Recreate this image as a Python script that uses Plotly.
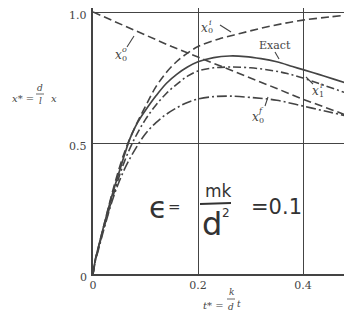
import plotly.graph_objects as go

# curves (t* vs x*), eps = mk/d^2 = 0.1
t_exact = [0, 0.005, 0.01, 0.02, 0.03, 0.04, 0.05, 0.06, 0.07, 0.08, 0.09, 0.10, 0.12, 0.14,
           0.16, 0.18, 0.20, 0.23, 0.26, 0.29, 0.32, 0.35, 0.38, 0.40, 0.43, 0.46, 0.495]
x_exact = [0, 0.06, 0.10, 0.18, 0.255, 0.325, 0.39, 0.455, 0.515, 0.56, 0.595, 0.625, 0.68, 0.728,
           0.763, 0.79, 0.81, 0.826, 0.832, 0.83, 0.822, 0.81, 0.792, 0.78, 0.762, 0.743, 0.72]

t_x1i = [0, 0.005, 0.01, 0.02, 0.04, 0.06, 0.08, 0.10, 0.12, 0.14, 0.16, 0.18, 0.20, 0.23,
         0.26, 0.30, 0.34, 0.37, 0.40, 0.44, 0.495]
x_x1i = [0, 0.055, 0.095, 0.17, 0.31, 0.43, 0.52, 0.59, 0.645, 0.69, 0.725, 0.755, 0.775, 0.787,
         0.79, 0.787, 0.777, 0.765, 0.748, 0.72, 0.682]

t_x0i = [0, 0.005, 0.01, 0.02, 0.04, 0.06, 0.08, 0.10, 0.12, 0.14, 0.16, 0.18, 0.20, 0.24,
         0.28, 0.32, 0.36, 0.40, 0.45, 0.495]
x_x0i = [0, 0.06, 0.10, 0.18, 0.335, 0.465, 0.56, 0.64, 0.715, 0.77, 0.812, 0.843, 0.868, 0.897,
         0.918, 0.938, 0.955, 0.969, 0.981, 0.99]

t_x0f = [0, 0.005, 0.01, 0.02, 0.04, 0.06, 0.08, 0.10, 0.12, 0.14, 0.16, 0.18, 0.20, 0.23,
         0.26, 0.30, 0.35, 0.40, 0.45, 0.495]
x_x0f = [0, 0.055, 0.09, 0.165, 0.30, 0.40, 0.475, 0.535, 0.578, 0.61, 0.635, 0.655, 0.668, 0.677,
         0.679, 0.674, 0.663, 0.641, 0.618, 0.598]

t_x0o = [0, 0.05, 0.10, 0.15, 0.20, 0.25, 0.30, 0.35, 0.40, 0.45, 0.495]
x_x0o = [1.0, 0.955, 0.91, 0.868, 0.828, 0.789, 0.749, 0.708, 0.667, 0.63, 0.597]

x_ticks = [0, 0.2, 0.4]
x_ticktext = ["0", "0.2", "0.4"]
y_ticks = [0, 0.5, 1.0]
y_ticktext = ["0", "0.5", "1.0"]

INK = "#444444"
PEN = "#333333"
SERIF = "DejaVu Serif"

# page has an 8px body margin; figure is 344x312 so the plot area ends at the window edge
W, H = 344, 312
LEFT, BOTTOM = 85, 46
Y_PX = 262  # pixels per unit of x*


def px_p(px):
    # page pixel -> paper x
    return (px - 8 - LEFT) / (W - LEFT)


def py_p(py):
    return (H - BOTTOM + 8 - py) / (H - BOTTOM)


fig = go.Figure()
fig.add_trace(go.Scatter(x=t_x0o, y=x_x0o, mode="lines", line=dict(color=INK, width=1.6, dash="8px,4px")))
fig.add_trace(go.Scatter(x=t_x0i, y=x_x0i, mode="lines", line_shape="spline",
                         line=dict(color=INK, width=1.6, dash="8px,4px")))
fig.add_trace(go.Scatter(x=t_exact, y=x_exact, mode="lines", line_shape="spline",
                         line=dict(color=INK, width=1.7)))
fig.add_trace(go.Scatter(x=t_x1i, y=x_x1i, mode="lines", line_shape="spline",
                         line=dict(color=INK, width=1.6, dash="8px,3px,2px,3px")))
fig.add_trace(go.Scatter(x=t_x0f, y=x_x0f, mode="lines", line_shape="spline",
                         line=dict(color=INK, width=1.6, dash="10px,3px,2px,3px")))

annotations = []


def txt(px, py, text, size, family=SERIF, color=INK, anchor="center"):
    annotations.append(dict(x=px_p(px), y=py_p(py), xref="paper", yref="paper", text=text,
                            showarrow=False, xanchor=anchor, yanchor="middle",
                            font=dict(family=family, size=size, color=color)))


def seg(p0, p1, color=INK, width=1.1):
    fig.add_shape(type="line", xref="paper", yref="paper", x0=px_p(p0[0]), y0=py_p(p0[1]),
                  x1=px_p(p1[0]), y1=py_p(p1[1]), line=dict(color=color, width=width))


def xlabel(px, py, sup, sub):
    # x with stacked superscript and subscript
    txt(px, py, "<i>x</i>", 12)
    txt(px + 6, py - 6, "<i>%s</i>" % sup, 8)
    txt(px + 6, py + 3, sub, 8)


# y tick labels as text, sitting a little below their lines as in the scan
for val, lab in zip(y_ticks, y_ticktext):
    annotations.append(dict(x=px_p(89), xref="paper", y=val, yref="y", yshift=-3, text=lab,
                            showarrow=False, xanchor="right", yanchor="middle",
                            font=dict(family=SERIF, size=11, color=INK)))

# curve labels with leader strokes
xlabel(118, 55, "o", "0")
seg((127, 47), (134, 36))
xlabel(204, 28, "i", "0")
seg((220, 25), (231, 32))
txt(275, 45, "Exact", 11)
seg((275, 52), (279, 59))
xlabel(315, 91, "i", "1")
seg((306, 77), (313, 84))
xlabel(255, 117, "f", "0")
seg((265, 106), (268, 97))

# axis titles
txt(10, 99, "<i>x</i>* =", 10, anchor="left")
txt(40, 88, "<i>d</i>", 9)
seg((36, 94), (44, 94), width=0.8)
txt(40, 101, "<i>l</i>", 9)
txt(54, 98, "<i>x</i>", 10)

txt(213, 305, "<i>t</i>* =", 10)
txt(231, 292, "<i>k</i>", 9)
seg((227, 299), (235, 299), width=0.8)
txt(231, 307, "<i>d</i>", 9)
txt(239, 304, "<i>t</i>", 9)

# handwritten note
HAND = "DejaVu Sans"
txt(158, 207, "ϵ", 30, HAND, PEN)
txt(174, 207, "=", 15, HAND, PEN)
txt(218, 191, "mk", 17, HAND, PEN)
seg((200, 204), (231, 203), color=PEN, width=1.8)
txt(212, 224, "d", 32, HAND, PEN)
txt(226, 213, "2", 12, HAND, PEN)
txt(276, 207, "=0.1", 21, HAND, PEN)

fig.update_layout(
    width=W,
    height=H,
    margin=dict(l=LEFT, r=0, t=0, b=BOTTOM),
    paper_bgcolor="white",
    plot_bgcolor="white",
    showlegend=False,
    annotations=annotations,
)
fig.update_xaxes(range=[0, (W - LEFT) / 525], tickvals=x_ticks, ticktext=x_ticktext, showgrid=True,
                 gridcolor=INK, gridwidth=1.2, showline=True, linecolor=INK, linewidth=1.5,
                 zeroline=False, ticks="", tickfont=dict(family=SERIF, size=11, color=INK))
fig.update_yaxes(range=[0, (H - BOTTOM) / Y_PX], tickvals=y_ticks, showticklabels=False, showgrid=True,
                 gridcolor=INK, gridwidth=1.2, showline=True, linecolor=INK, linewidth=1.5,
                 zeroline=False, ticks="")

fig.write_html("out.html")
